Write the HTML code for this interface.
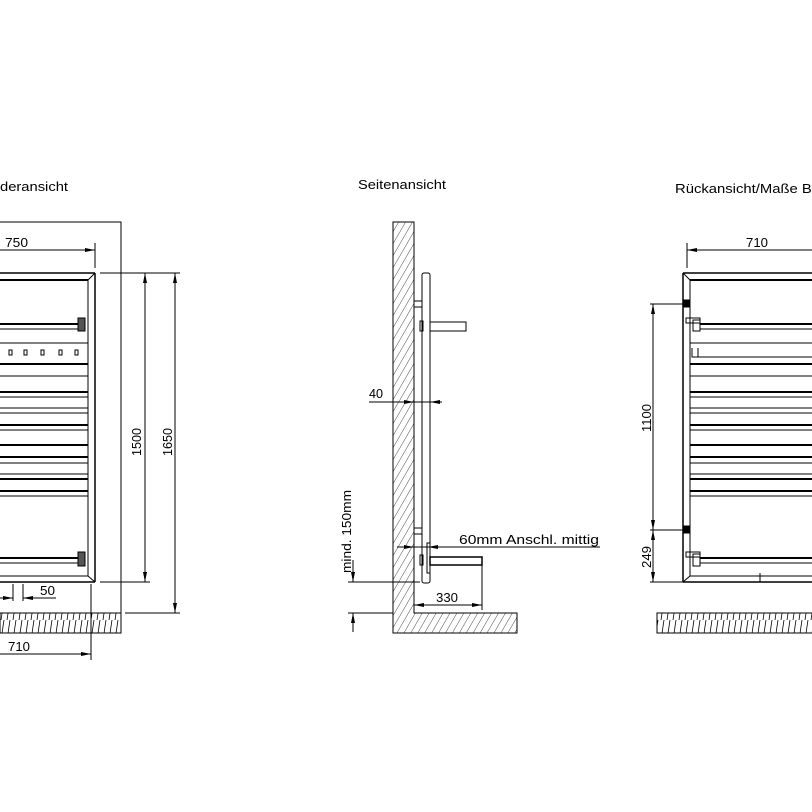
<!DOCTYPE html>
<html><head><meta charset="utf-8"><style>
html,body{margin:0;padding:0;background:#fff;}
svg{display:block;}
text{font-family:"Liberation Sans",sans-serif;font-size:13px;fill:#000;}
</style></head><body>
<svg width="812" height="812" viewBox="0 0 812 812" xmlns="http://www.w3.org/2000/svg">
<defs>
<pattern id="hv" width="6" height="20" patternUnits="userSpaceOnUse">
<line x1="4" y1="0" x2="1" y2="20" stroke="#000" stroke-width="0.8"/>
</pattern>
<pattern id="hd" width="6" height="6" patternUnits="userSpaceOnUse" patternTransform="rotate(30)">
<line x1="0" y1="0" x2="0" y2="6" stroke="#000" stroke-width="0.7"/>
</pattern>
<marker id="a" viewBox="0 0 10 6" refX="10" refY="3" markerWidth="10" markerHeight="6" orient="auto-start-reverse" markerUnits="userSpaceOnUse">
<path d="M0,1 L10,3 L0,5 Z" fill="#000"/>
</marker>
</defs>
<g stroke="#000" fill="none" stroke-width="1">

<!-- LEFT -->
<text x="0" y="191" stroke="none" textLength="68" lengthAdjust="spacingAndGlyphs">deransicht</text>
<polyline points="0,222 121,222 121,633 0,633"/>
<rect x="0" y="613" width="121" height="20" fill="url(#hv)"/>
<line x1="0" y1="613" x2="121" y2="613"/>
<line x1="0" y1="250" x2="95" y2="250" marker-end="url(#a)"/>
<line x1="95" y1="243" x2="95" y2="268"/>
<text x="5" y="247" stroke="none" textLength="23" lengthAdjust="spacingAndGlyphs">750</text>
<line x1="95" y1="273" x2="95" y2="582" stroke-width="1.5"/>
<line x1="88" y1="280" x2="88" y2="576"/>
<line x1="0" y1="273" x2="95" y2="273" stroke-width="1.5"/>
<line x1="0" y1="280" x2="88" y2="280" stroke-width="2"/>
<line x1="88" y1="280" x2="95" y2="273"/>
<line x1="0" y1="582" x2="95" y2="582" stroke-width="1.5"/>
<line x1="0" y1="576" x2="88" y2="576"/>
<line x1="88" y1="576" x2="95" y2="582"/>
<g stroke-width="1">
<line x1="0" y1="324" x2="80" y2="324" stroke-width="2"/><line x1="0" y1="329" x2="80" y2="329"/>
<line x1="0" y1="343" x2="88" y2="343"/>
<line x1="0" y1="364" x2="88" y2="364" stroke-width="2"/><line x1="0" y1="376" x2="88" y2="376"/>
<line x1="0" y1="392" x2="88" y2="392" stroke-width="2"/><line x1="0" y1="397" x2="88" y2="397"/>
<line x1="0" y1="408" x2="88" y2="408"/><line x1="0" y1="413" x2="88" y2="413"/>
<line x1="0" y1="425" x2="88" y2="425" stroke-width="2"/><line x1="0" y1="430" x2="88" y2="430"/>
<line x1="0" y1="445" x2="88" y2="445" stroke-width="2"/>
<line x1="0" y1="457" x2="88" y2="457" stroke-width="2"/><line x1="0" y1="463" x2="88" y2="463"/>
<line x1="0" y1="474" x2="88" y2="474"/><line x1="0" y1="479" x2="88" y2="479" stroke-width="2"/>
<line x1="0" y1="491" x2="88" y2="491" stroke-width="2"/><line x1="0" y1="496" x2="88" y2="496"/>
<line x1="0" y1="558" x2="80" y2="558" stroke-width="2"/><line x1="0" y1="563" x2="80" y2="563"/>
</g>
<rect x="9" y="350" width="3" height="5"/><rect x="24" y="350" width="3" height="5"/>
<rect x="41" y="350" width="3" height="5"/><rect x="59" y="350" width="3" height="5"/>
<rect x="75" y="350" width="3" height="5"/>
<rect x="78" y="318" width="7" height="13" fill="#555"/>
<rect x="78" y="552" width="7" height="14" fill="#555"/>
<line x1="100" y1="273" x2="180" y2="273"/>
<line x1="100" y1="582" x2="150" y2="582"/>
<line x1="125" y1="613" x2="180" y2="613"/>
<line x1="145" y1="273" x2="145" y2="582" marker-start="url(#a)" marker-end="url(#a)"/>
<line x1="175" y1="273" x2="175" y2="613" marker-start="url(#a)" marker-end="url(#a)"/>
<text transform="translate(141,456) rotate(-90)" stroke="none" textLength="28" lengthAdjust="spacingAndGlyphs">1500</text>
<text transform="translate(172,456) rotate(-90)" stroke="none" textLength="28" lengthAdjust="spacingAndGlyphs">1650</text>
<line x1="13" y1="584" x2="13" y2="601"/><line x1="23" y1="584" x2="23" y2="601"/>
<line x1="0" y1="598" x2="13" y2="598" marker-end="url(#a)"/>
<line x1="23" y1="598" x2="56" y2="598" marker-start="url(#a)"/>
<text x="40" y="595" stroke="none" textLength="15" lengthAdjust="spacingAndGlyphs">50</text>
<line x1="91" y1="584" x2="91" y2="660"/>
<line x1="0" y1="654" x2="91" y2="654" marker-end="url(#a)"/>
<text x="8" y="651" stroke="none" textLength="22" lengthAdjust="spacingAndGlyphs">710</text>

<!-- MIDDLE -->
<text x="358" y="189" stroke="none" textLength="88" lengthAdjust="spacingAndGlyphs">Seitenansicht</text>
<path d="M393,222 L414,222 L414,613 L517,613 L517,633 L393,633 Z" fill="url(#hd)"/>
<rect x="422" y="273" width="8" height="310" rx="2"/>
<rect x="414" y="301" width="8" height="6"/>
<rect x="414" y="528" width="8" height="6"/>
<rect x="420" y="321" width="3" height="10"/>
<rect x="430" y="322" width="36" height="9"/>
<rect x="420" y="555" width="3" height="10"/>
<rect x="427" y="543" width="3" height="30"/>
<rect x="430" y="557" width="52" height="8" stroke-width="1.5"/>
<line x1="369" y1="402" x2="441" y2="402"/>
<line x1="402" y1="402" x2="414" y2="402" marker-end="url(#a)"/>
<line x1="442" y1="402" x2="430" y2="402" marker-end="url(#a)"/>
<text x="369" y="398" stroke="none" textLength="14" lengthAdjust="spacingAndGlyphs">40</text>
<line x1="397" y1="547" x2="600" y2="547"/>
<line x1="397" y1="547" x2="414" y2="547" marker-end="url(#a)"/>
<line x1="440" y1="547" x2="428" y2="547" marker-end="url(#a)"/>
<text x="459" y="544" stroke="none" textLength="140" lengthAdjust="spacingAndGlyphs">60mm Anschl. mittig</text>
<line x1="482" y1="565" x2="482" y2="610"/>
<line x1="414" y1="605" x2="482" y2="605" marker-start="url(#a)" marker-end="url(#a)"/>
<text x="436" y="602" stroke="none" textLength="22" lengthAdjust="spacingAndGlyphs">330</text>
<line x1="348" y1="582" x2="420" y2="582"/>
<line x1="348" y1="613" x2="393" y2="613"/>
<line x1="353" y1="560" x2="353" y2="582" marker-end="url(#a)"/>
<line x1="353" y1="632" x2="353" y2="613" marker-end="url(#a)"/>
<text transform="translate(351,573) rotate(-90)" stroke="none" textLength="83" lengthAdjust="spacingAndGlyphs">mind. 150mm</text>

<!-- RIGHT -->
<text x="675" y="193" stroke="none" textLength="145" lengthAdjust="spacingAndGlyphs">Rückansicht/Maße Bo</text>
<line x1="687" y1="243" x2="687" y2="268"/>
<line x1="812" y1="250" x2="687" y2="250" marker-end="url(#a)"/>
<text x="746" y="247" stroke="none" textLength="22" lengthAdjust="spacingAndGlyphs">710</text>
<line x1="683" y1="273" x2="683" y2="582" stroke-width="1.5"/>
<line x1="690" y1="280" x2="690" y2="576"/>
<line x1="683" y1="273" x2="812" y2="273" stroke-width="1.5"/>
<line x1="690" y1="280" x2="812" y2="280" stroke-width="2"/>
<line x1="683" y1="273" x2="690" y2="280"/>
<line x1="683" y1="582" x2="812" y2="582" stroke-width="1.5"/>
<line x1="690" y1="576" x2="812" y2="576"/>
<line x1="683" y1="582" x2="690" y2="576"/>
<line x1="700" y1="324" x2="812" y2="324" stroke-width="2"/><line x1="700" y1="329" x2="812" y2="329"/>
<line x1="690" y1="343" x2="812" y2="343"/>
<path d="M692,348 L692,357 L812,357"/><line x1="698" y1="348" x2="698" y2="357"/>
<line x1="690" y1="364" x2="812" y2="364" stroke-width="2"/><line x1="690" y1="376" x2="812" y2="376"/>
<line x1="690" y1="392" x2="812" y2="392" stroke-width="2"/><line x1="690" y1="397" x2="812" y2="397"/>
<line x1="690" y1="408" x2="812" y2="408"/><line x1="690" y1="413" x2="812" y2="413"/>
<line x1="690" y1="425" x2="812" y2="425" stroke-width="2"/><line x1="690" y1="430" x2="812" y2="430"/>
<line x1="690" y1="445" x2="812" y2="445" stroke-width="2"/>
<line x1="690" y1="457" x2="812" y2="457" stroke-width="2"/><line x1="690" y1="463" x2="812" y2="463"/>
<line x1="690" y1="474" x2="812" y2="474"/><line x1="690" y1="479" x2="812" y2="479" stroke-width="2"/>
<line x1="690" y1="491" x2="812" y2="491" stroke-width="2"/><line x1="690" y1="496" x2="812" y2="496"/>
<line x1="700" y1="558" x2="812" y2="558" stroke-width="2"/><line x1="700" y1="563" x2="812" y2="563"/>
<rect x="683" y="300" width="6" height="7" fill="#000"/>
<rect x="683" y="526" width="6" height="7" fill="#000"/>
<rect x="686" y="318" width="14" height="5"/><rect x="693" y="320" width="7" height="11"/>
<rect x="686" y="552" width="14" height="5"/><rect x="693" y="554" width="7" height="12"/>
<line x1="760" y1="573" x2="760" y2="582"/>
<line x1="650" y1="304" x2="686" y2="304"/>
<line x1="650" y1="530" x2="686" y2="530"/>
<line x1="650" y1="582" x2="683" y2="582"/>
<line x1="653" y1="304" x2="653" y2="530" marker-start="url(#a)" marker-end="url(#a)"/>
<line x1="653" y1="530" x2="653" y2="582" marker-start="url(#a)" marker-end="url(#a)"/>
<text transform="translate(651,432) rotate(-90)" stroke="none" textLength="28" lengthAdjust="spacingAndGlyphs">1100</text>
<text transform="translate(651,568) rotate(-90)" stroke="none" textLength="22" lengthAdjust="spacingAndGlyphs">249</text>
<rect x="657" y="613" width="160" height="20" fill="url(#hv)"/>
</g>
</svg>
</body></html>
